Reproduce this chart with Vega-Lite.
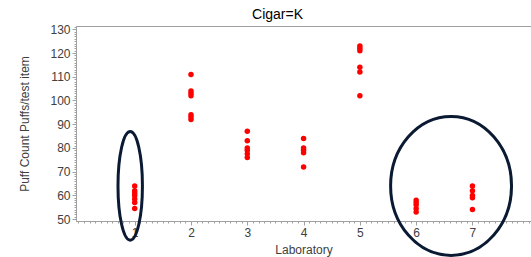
{
  "$schema": "https://vega.github.io/schema/vega-lite/v6.json",
  "autosize": "none",
  "width": 455,
  "height": 195,
  "padding": {"left": 76, "top": 26, "right": 0, "bottom": 36},
  "background": "white",
  "config": {"view": {"stroke": "#a0a0a0"}},
  "title": {"text": "Cigar=K", "font": "Liberation Sans", "fontSize": 14, "fontWeight": "normal", "color": "#000000", "dx": -26, "dy": 9, "offset": 8, "anchor": "middle"},
  "datasets": {
    "puffs": [
      {"Laboratory": 1, "Puffs": 64}, {"Laboratory": 1, "Puffs": 62}, {"Laboratory": 1, "Puffs": 61}, {"Laboratory": 1, "Puffs": 60}, {"Laboratory": 1, "Puffs": 58.5}, {"Laboratory": 1, "Puffs": 57}, {"Laboratory": 1, "Puffs": 54.5},
      {"Laboratory": 2, "Puffs": 111}, {"Laboratory": 2, "Puffs": 104}, {"Laboratory": 2, "Puffs": 103}, {"Laboratory": 2, "Puffs": 102}, {"Laboratory": 2, "Puffs": 94}, {"Laboratory": 2, "Puffs": 93}, {"Laboratory": 2, "Puffs": 92},
      {"Laboratory": 3, "Puffs": 87}, {"Laboratory": 3, "Puffs": 83}, {"Laboratory": 3, "Puffs": 80}, {"Laboratory": 3, "Puffs": 79}, {"Laboratory": 3, "Puffs": 77.5}, {"Laboratory": 3, "Puffs": 76},
      {"Laboratory": 4, "Puffs": 84}, {"Laboratory": 4, "Puffs": 80}, {"Laboratory": 4, "Puffs": 79}, {"Laboratory": 4, "Puffs": 78}, {"Laboratory": 4, "Puffs": 72},
      {"Laboratory": 5, "Puffs": 123}, {"Laboratory": 5, "Puffs": 122}, {"Laboratory": 5, "Puffs": 121}, {"Laboratory": 5, "Puffs": 114}, {"Laboratory": 5, "Puffs": 112}, {"Laboratory": 5, "Puffs": 102},
      {"Laboratory": 6, "Puffs": 58}, {"Laboratory": 6, "Puffs": 57}, {"Laboratory": 6, "Puffs": 56}, {"Laboratory": 6, "Puffs": 54.5}, {"Laboratory": 6, "Puffs": 53},
      {"Laboratory": 7, "Puffs": 64}, {"Laboratory": 7, "Puffs": 62}, {"Laboratory": 7, "Puffs": 60}, {"Laboratory": 7, "Puffs": 59}, {"Laboratory": 7, "Puffs": 54}
    ],
    "ellipses": [
      {"Laboratory": 0.92, "Puffs": 64, "group": "A"},
      {"Laboratory": 6.62, "Puffs": 64, "group": "B"}
    ]
  },
  "encoding": {
    "x": {
      "field": "Laboratory", "type": "quantitative",
      "scale": {"domain": [-0.043, 8.04], "nice": false, "zero": false},
      "axis": {
        "title": "Laboratory", "titleFont": "Liberation Sans", "titleFontSize": 12, "titleFontWeight": "normal", "titleColor": "#404040", "titlePadding": 6,
        "values": [0,0.1,0.2,0.3,0.4,0.5,0.6,0.7,0.8,0.9,1,1.1,1.2,1.3,1.4,1.5,1.6,1.7,1.8,1.9,2,2.1,2.2,2.3,2.4,2.5,2.6,2.7,2.8,2.9,3,3.1,3.2,3.3,3.4,3.5,3.6,3.7,3.8,3.9,4,4.1,4.2,4.3,4.4,4.5,4.6,4.7,4.8,4.9,5,5.1,5.2,5.3,5.4,5.5,5.6,5.7,5.8,5.9,6,6.1,6.2,6.3,6.4,6.5,6.6,6.7,6.8,6.9,7,7.1,7.2,7.3,7.4,7.5,7.6,7.7,7.8,7.9,8],
        "labelExpr": "abs(datum.value - round(datum.value)) < 0.001 && datum.value >= 1 && datum.value <= 7 ? format(datum.value, 'd') : ''",
        "labelOverlap": false,
        "labelFont": "Liberation Sans", "labelFontSize": 12, "labelColor": "#404040", "labelPadding": 2,
        "grid": false, "domainColor": "#a0a0a0", "tickColor": "#a0a0a0",
        "tickSize": {"condition": {"test": "abs(datum.value - round(datum.value)) < 0.001 && datum.value >= 1 && datum.value <= 7", "value": 4}, "value": 2}
      }
    },
    "y": {
      "field": "Puffs", "type": "quantitative",
      "scale": {"domain": [49.2, 131.4], "nice": false, "zero": false},
      "axis": {
        "title": "Puff Count Puffs/test item", "titleFont": "Liberation Sans", "titleFontSize": 12, "titleFontWeight": "normal", "titleColor": "#404040", "titlePadding": 18,
        "values": [50,51,52,53,54,55,56,57,58,59,60,61,62,63,64,65,66,67,68,69,70,71,72,73,74,75,76,77,78,79,80,81,82,83,84,85,86,87,88,89,90,91,92,93,94,95,96,97,98,99,100,101,102,103,104,105,106,107,108,109,110,111,112,113,114,115,116,117,118,119,120,121,122,123,124,125,126,127,128,129,130,131],
        "labelExpr": "datum.value % 10 === 0 ? format(datum.value, 'd') : ''",
        "labelOverlap": false,
        "labelFont": "Liberation Sans", "labelFontSize": 12, "labelColor": "#404040", "labelPadding": 2,
        "grid": false, "domainColor": "#a0a0a0", "tickColor": "#a0a0a0",
        "tickSize": {"condition": {"test": "datum.value % 10 === 0", "value": 4}, "value": 2}
      }
    }
  },
  "layer": [
    {
      "data": {"name": "puffs"},
      "mark": {"type": "point", "filled": true, "shape": "circle", "size": 30, "color": "#ff0000", "opacity": 1}
    },
    {
      "data": {"name": "ellipses"},
      "transform": [{"filter": "datum.group === 'A'"}],
      "mark": {"type": "point", "filled": false, "opacity": 1, "stroke": "#0b1a33", "strokeWidth": 3, "size": 11794,
        "shape": "M0,-1C0.124,-1,0.225,-0.552,0.225,0C0.225,0.552,0.124,1,0,1C-0.124,1,-0.225,0.552,-0.225,0C-0.225,-0.552,-0.124,-1,0,-1Z"}
    },
    {
      "data": {"name": "ellipses"},
      "transform": [{"filter": "datum.group === 'B'"}],
      "mark": {"type": "point", "filled": false, "opacity": 1, "stroke": "#0b1a33", "strokeWidth": 3, "size": 19321,
        "shape": "M0,-1C0.48,-1,0.87,-0.552,0.87,0C0.87,0.552,0.48,1,0,1C-0.48,1,-0.87,0.552,-0.87,0C-0.87,-0.552,-0.48,-1,0,-1Z"}
    }
  ]
}
